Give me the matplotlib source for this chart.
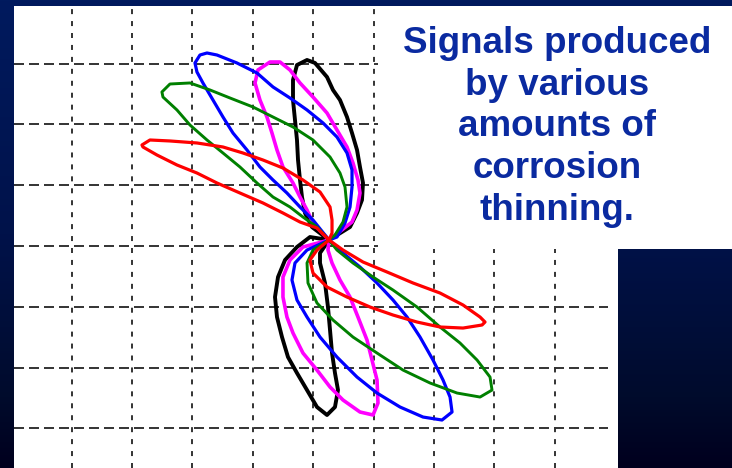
import matplotlib.pyplot as plt
import numpy as np
from matplotlib.colors import LinearSegmentedColormap
from matplotlib.patches import Rectangle

# traced signal loops, in screen divisions relative to the crossing point
black_x = [0, -0.282, -0.397, -0.447, -0.480, -0.513, -0.530, -0.563, -0.596, -0.596, -0.530, -0.364,
           -0.232, -0.033, 0.066, 0.182, 0.298, 0.381, 0.464, 0.513, 0.563, 0.546, 0.464, 0.348, 0,
           -0.149, -0.149, -0.066, -0.017, 0.017, 0.050, 0.099, 0.149, 0.099, -0.033, -0.199, -0.364,
           -0.530, -0.679, -0.778, -0.861, -0.894, -0.844, -0.728, -0.530, -0.315, 0]
black_y = [0, 0.214, 0.444, 0.707, 0.987, 1.316, 1.645, 1.974, 2.303, 2.632, 2.878, 2.961,
           2.912, 2.681, 2.468, 2.303, 2.023, 1.760, 1.481, 1.201, 0.938, 0.658, 0.444, 0.214, 0,
           -0.214, -0.378, -0.707, -1.102, -1.481, -1.859, -2.188, -2.468, -2.747, -2.878, -2.747, -2.468,
           -2.188, -1.925, -1.596, -1.267, -0.938, -0.609, -0.329, -0.115, 0.049, 0]

magenta_x = [0, -0.265, -0.364, -0.480, -0.596, -0.762, -0.861, -0.944, -1.027, -1.143, -1.225, -1.176,
             -0.977, -0.811, -0.646, -0.480, -0.265, -0.033, 0.132, 0.298, 0.397, 0.480, 0.513, 0.464,
             0.381, 0, -0.017, 0.050, 0.182, 0.348, 0.480, 0.629, 0.712, 0.795, 0.811, 0.729, 0.513,
             0.232, 0.017, -0.199, -0.431, -0.596, -0.696, -0.762, -0.762, -0.646, -0.431, 0]
magenta_y = [0, 0.280, 0.494, 0.707, 0.938, 1.201, 1.481, 1.760, 2.023, 2.303, 2.583, 2.797,
             2.928, 2.928, 2.797, 2.583, 2.352, 2.089, 1.810, 1.530, 1.267, 0.987, 0.773, 0.494,
             0.296, 0, -0.165, -0.378, -0.658, -0.938, -1.267, -1.645, -1.974, -2.303, -2.681, -2.878, -2.829,
             -2.632, -2.418, -2.139, -1.859, -1.530, -1.267, -0.938, -0.609, -0.329, -0.115, 0]

blue_x = [0, -0.265, -0.480, -0.696, -0.927, -1.143, -1.358, -1.590, -1.755, -1.921, -2.087, -2.186,
          -2.219, -2.136, -2.020, -1.855, -1.524, -1.192, -0.927, -0.646, -0.364, -0.099, 0.132, 0.298,
          0.381, 0.381, 0.348, 0.265, 0.132, 0, 0.232, 0.513, 0.795, 1.060, 1.292, 1.507, 1.722, 1.888,
          2.004, 2.037, 1.871, 1.557, 1.176, 0.795, 0.464, 0.132, -0.149, -0.364, -0.530, -0.613,
          -0.563, -0.364, 0]
blue_y = [0, 0.329, 0.543, 0.773, 0.987, 1.201, 1.481, 1.760, 2.023, 2.303, 2.583, 2.764,
          2.912, 3.043, 3.076, 3.043, 2.912, 2.747, 2.517, 2.336, 2.139, 1.925, 1.694, 1.431,
          1.152, 0.872, 0.543, 0.280, 0.049, 0, -0.214, -0.444, -0.707, -0.987, -1.267, -1.596, -1.974, -2.303,
          -2.583, -2.829, -2.961, -2.912, -2.747, -2.517, -2.254, -1.925, -1.596, -1.267, -0.987, -0.658,
          -0.378, -0.165, 0]

green_x = [0, -0.199, -0.431, -0.646, -0.927, -1.192, -1.474, -1.755, -2.020, -2.302, -2.517, -2.749,
           -2.766, -2.633, -2.302, -1.971, -1.639, -1.259, -0.927, -0.596, -0.265, 0.017, 0.182, 0.265,
           0.298, 0.232, 0.099, 0, 0.132, 0.397, 0.729, 1.060, 1.457, 1.838, 2.169, 2.451, 2.666, 2.699,
           2.501, 2.120, 1.673, 1.225, 0.795, 0.397, 0.066, -0.199, -0.348, -0.364, -0.265, 0]
green_y = [0, 0.214, 0.378, 0.543, 0.707, 0.938, 1.201, 1.431, 1.645, 1.892, 2.139, 2.352,
           2.435, 2.566, 2.583, 2.468, 2.336, 2.188, 2.023, 1.859, 1.645, 1.365, 1.102, 0.872,
           0.543, 0.296, 0.082, 0, -0.165, -0.378, -0.609, -0.823, -1.102, -1.431, -1.694, -1.974, -2.254, -2.468,
           -2.583, -2.517, -2.352, -2.139, -1.859, -1.596, -1.316, -1.036, -0.707, -0.378, -0.165, 0]

red_x = [0, -0.199, -0.480, -0.762, -1.093, -1.474, -1.855, -2.186, -2.517, -2.848, -3.080, -3.097,
         -2.964, -2.633, -2.186, -1.755, -1.424, -1.093, -0.762, -0.431, -0.149, 0.017, 0.050, 0.050,
         0, 0.232, 0.563, 0.960, 1.391, 1.838, 2.219, 2.501, 2.583, 2.534, 2.219, 1.838, 1.457, 1.060,
         0.679, 0.298, -0.033, -0.265, -0.315, -0.199, 0]
red_y = [0, 0.197, 0.296, 0.444, 0.609, 0.773, 0.938, 1.102, 1.234, 1.398, 1.530, 1.563,
         1.645, 1.629, 1.596, 1.530, 1.431, 1.316, 1.184, 0.987, 0.790, 0.543, 0.329, 0.115,
         0, -0.165, -0.362, -0.526, -0.707, -0.872, -1.069, -1.267, -1.349, -1.398, -1.448, -1.431, -1.349, -1.234,
         -1.102, -0.938, -0.773, -0.543, -0.329, -0.165, 0]

signals = [
    (black_x, black_y, "#000000", 2.8),
    (magenta_x, magenta_y, "#ff00ff", 2.6),
    (blue_x, blue_y, "#0000ff", 2.3),
    (green_x, green_y, "#008000", 2.1),
    (red_x, red_y, "#ff0000", 2.3),
]

grid_x = np.arange(-4.26, 4.0, 1.0)
grid_y = np.arange(-3.10, 3.0, 1.0)

caption = ["Signals produced", "by various", "amounts of", "corrosion", "thinning."]

plt.rcParams["lines.scale_dashes"] = False

fig = plt.figure(figsize=(7.32, 4.68), dpi=100)

# dark slide background
navy = LinearSegmentedColormap.from_list(
    "navy", [(0.0, "#001a5e"), (0.5, "#00124a"), (0.85, "#000b2c"), (1.0, "#00001e")])
grad = np.linspace(0, 1, 256).reshape(-1, 1)
bg = fig.add_axes([0, 0, 1, 1], zorder=0)
bg.imshow(grad, aspect="auto", cmap=navy, extent=[0, 1, 0, 1])
bg.axis("off")

ax = fig.add_axes([14 / 732, 0, 718 / 732, 462 / 468], zorder=1)
ax.set_facecolor("white")
ax.set_xlim(-5.215, 6.672)
ax.set_ylim(-3.75, 3.849)

ax.vlines(grid_x, -3.75, 3.849, colors="#333333", linewidth=1.4,
          linestyles=[(0, (3.6, 5.0))], zorder=1)
ax.hlines(grid_y, -5.215, 4.62, colors="#333333", linewidth=1.4,
          linestyles=[(0, (7.2, 3.6))], zorder=1)

for xs, ys, col, lw in signals:
    ax.plot(xs, ys, color=col, linewidth=lw, zorder=2, solid_joinstyle="round")

# white caption panel over the upper right of the screen
ax.add_patch(Rectangle((0.81, -0.148), 6.0, 4.2, facecolor="white", edgecolor="none", zorder=3))

for s in ax.spines.values():
    s.set_visible(False)
ax.set_xticks([])
ax.set_yticks([])

# dark block in the lower right corner
corner = fig.add_axes([618 / 732, 0, 114 / 732, 219 / 468], zorder=2)
corner.imshow(grad[int(256 * 249 / 468):], aspect="auto", cmap=navy, vmin=0, vmax=1,
              extent=[0, 1, 0, 1])
corner.axis("off")

fig.text(557 / 732, 1 - 127 / 468, "\n".join(caption), ha="center", va="center",
         fontsize=26.5, fontweight="bold", color="#0a2aa0", linespacing=1.25,
         family=["Liberation Sans", "DejaVu Sans"], zorder=5)

fig.savefig("out.png", dpi=100)
